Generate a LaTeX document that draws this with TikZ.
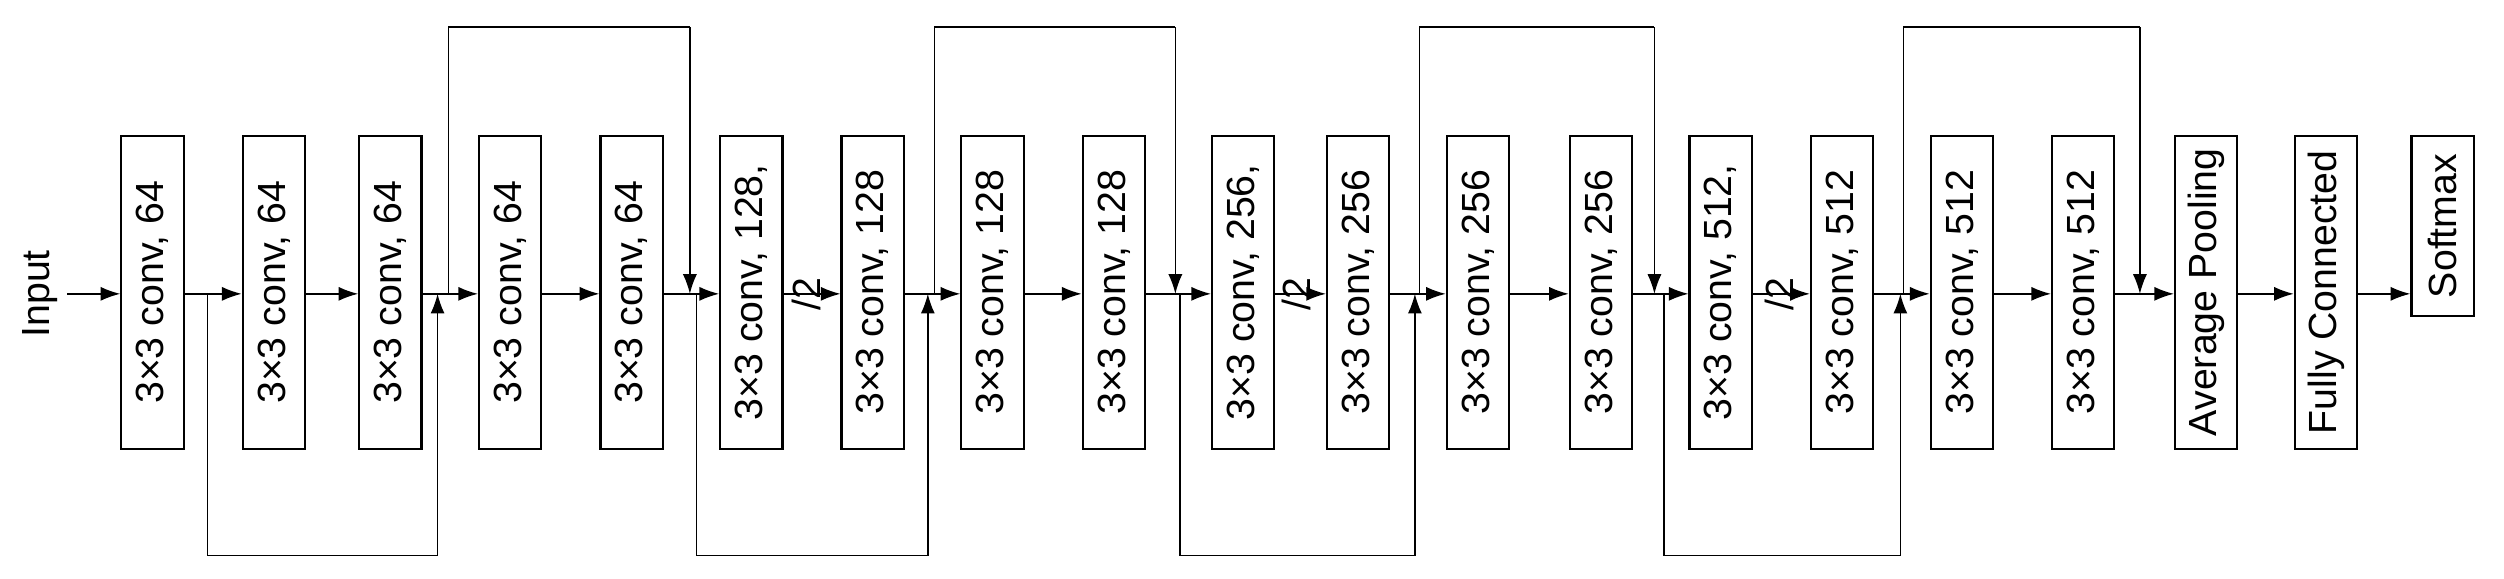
\documentclass[tikz,border=0pt]{standalone}
\usepackage{fontspec}
\setmainfont{Liberation Sans}
\usetikzlibrary{arrows.meta}
\begin{document}
\begin{tikzpicture}[x=0.02cm,y=-0.02cm,
  blk/.style={draw,line width=0.8pt,rotate=90,minimum height=0.78cm,minimum width=3.92cm,inner sep=0pt,font=\fontsize{14}{16}\selectfont},
  lbl/.style={rotate=90,font=\fontsize{14}{16}\selectfont},
  ar/.style={-{Latex[length=7pt,width=5pt]},line width=0.5pt},
  ln/.style={line width=0.5pt}]
\useasboundingbox (0,0) rectangle (1568,362);
\foreach \i/\x/\t in {1/95.5/{3\texttimes3 conv, 64},2/171.5/{3\texttimes3 conv, 64},3/244.5/{3\texttimes3 conv, 64},
  4/319.5/{3\texttimes3 conv, 64},5/395.5/{3\texttimes3 conv, 64},6/470.5/{3\texttimes3 conv, 128,},
  7/546.5/{3\texttimes3 conv, 128},8/621.5/{3\texttimes3 conv, 128},9/697.5/{3\texttimes3 conv, 128},
  10/778.5/{3\texttimes3 conv, 256,},11/850.5/{3\texttimes3 conv, 256},12/925.5/{3\texttimes3 conv, 256},
  13/1002.5/{3\texttimes3 conv, 256},14/1077.5/{3\texttimes3 conv, 512,},15/1153.5/{3\texttimes3 conv, 512},
  16/1228.5/{3\texttimes3 conv, 512},17/1304.5/{3\texttimes3 conv, 512},18/1381.5/{Average Pooling},
  19/1456.5/{Fully Connected}}
  \node[blk] (b\i) at (\x,183) {\t};
\node[blk,minimum width=2.26cm] (b20) at (1529.5,141.5) {Softmax};
\node[lbl] (inp) at (25,184) {Input};
\foreach \i/\x in {6/505,10/812,14/1114}
  \node[lbl,inner sep=0.5pt] (h\i) at (\x,184) {/2};
\coordinate (s) at (42,184);
\draw[ar] (s) -- (b1.north|-s);
\foreach \a/\b in {1/2,2/3,3/4,4/5,5/6,6/7,7/8,8/9,9/10,10/11,11/12,12/13,13/14,14/15,15/16,16/17,17/18,18/19,19/20}
  \draw[ar] (b\a.south|-s) -- (b\b.north|-s);
% bottom skips
\foreach \n/\xa/\xb in {1/130/274,2/436/581,3/739/886,4/1042/1190}{
  \coordinate (d\n a) at (\xa,184);
  \coordinate (d\n b) at (\xb,184);
  \draw[ln] (d\n a) -- (\xa,348) -- (\xb,348);
  \draw[ar] (\xb,348) -- (d\n b);
}
% top skips
\foreach \n/\xa/\xb in {1/281/432,2/585/736,3/889/1036,4/1192/1340}{
  \coordinate (u\n a) at (\xa,184);
  \coordinate (u\n b) at (\xb,184);
  \draw[ln] (u\n a) -- (\xa,17) -- (\xb,17);
  \draw[ar] (\xb,17) -- (u\n b);
}
\end{tikzpicture}
\end{document}
